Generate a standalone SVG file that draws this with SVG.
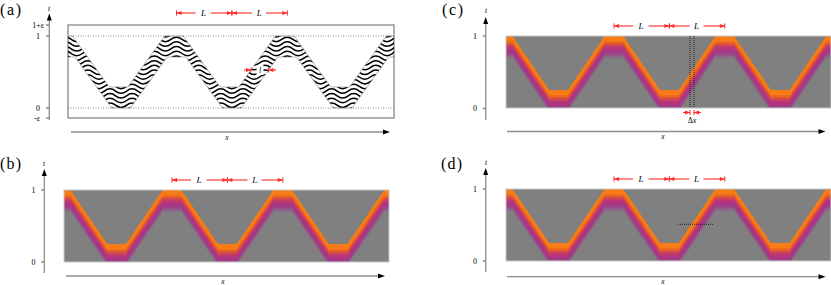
<svg xmlns="http://www.w3.org/2000/svg" xmlns:xlink="http://www.w3.org/1999/xlink" width="831" height="285" viewBox="0 0 831 285">
<style>
text{font-family:"Liberation Serif","Times New Roman",serif;fill:#000}
.pl{font-size:16px}
.tk{font-size:8px;text-anchor:end}
.ax{stroke:#8c8c8c;stroke-width:1.3;fill:none}
.ah{fill:#000}
.dim{stroke:#ff2a2a;stroke-width:1.1;fill:none;marker-end:url(#ah)}
.lb{font-size:9px;font-style:italic;text-anchor:middle}
.sm{font-size:7.5px;font-style:italic;text-anchor:middle}
.dot{stroke:#888;stroke-width:1;stroke-dasharray:1 1.5;fill:none}
.kdot{stroke:#222;stroke-width:1;stroke-dasharray:1 1;fill:none}
</style>
<defs>
<marker id="ah" markerUnits="userSpaceOnUse" markerWidth="10" markerHeight="10" viewBox="-8 -5 10 10" refX="0" refY="0" orient="auto" overflow="visible">
<path d="M0,0 L-5,-2 L-5,2 Z" fill="#ff2a2a"/><path d="M0,-2.6 V2.6" stroke="#ff2a2a" stroke-width="1"/>
</marker>
<filter id="bl" x="-0.05" y="-0.1" width="1.1" height="1.2"><feGaussianBlur stdDeviation="0.7"/></filter>
<path id="band" d="M53.86,36 L72.46,36 L109.26,87 L127.86,87 L164.66,36 L183.26,36 L220.06,87 L238.66,87 L275.46,36 L294.06,36 L330.86,87 L349.46,87 L386.26,36 L404.86,36 L407.36,57 L388.76,57 L351.96,108 L333.36,108 L296.56,57 L277.96,57 L241.16,108 L222.56,108 L185.76,57 L167.16,57 L130.36,108 L111.76,108 L74.96,57 L56.36,57 Z"/>
<clipPath id="cA"><rect x="68" y="25" width="326" height="93"/></clipPath>
<clipPath id="cBand"><path d="M53.86,36 L72.46,36 L109.26,87 L127.86,87 L164.66,36 L183.26,36 L220.06,87 L238.66,87 L275.46,36 L294.06,36 L330.86,87 L349.46,87 L386.26,36 L404.86,36 L407.36,57 L388.76,57 L351.96,108 L333.36,108 L296.56,57 L277.96,57 L241.16,108 L222.56,108 L185.76,57 L167.16,57 L130.36,108 L111.76,108 L74.96,57 L56.36,57 Z"/></clipPath>
<path id="wv" fill="none" stroke="#000" stroke-width="1.5" d="M60.12,0 q5.54,-4.5 11.08,0 t11.08,0 t11.08,0 t11.08,0 t11.08,0 t11.08,0 t11.08,0 t11.08,0 t11.08,0 t11.08,0 t11.08,0 t11.08,0 t11.08,0 t11.08,0 t11.08,0 t11.08,0 t11.08,0 t11.08,0 t11.08,0 t11.08,0 t11.08,0 t11.08,0 t11.08,0 t11.08,0 t11.08,0 t11.08,0 t11.08,0 t11.08,0 t11.08,0 t11.08,0 t11.08,0 t11.08,0"/>
<path id="hb" d="M-3.54,244 L15.06,244 L51.86,190 L70.46,190 L107.26,244 L125.86,244 L162.66,190 L181.26,190 L218.06,244 L236.66,244 L273.46,190 L292.06,190 L328.86,244 L347.46,244 L384.26,190 L402.86,190 L439.66,244 L450,244 L450,330 L-3.54,330 Z"/>
<clipPath id="cH"><rect x="64" y="190" width="325" height="72"/></clipPath>
<g id="hm">
<g clip-path="url(#cH)">
<g filter="url(#bl)">
<rect x="54" y="180" width="345" height="92" fill="#808080"/>
<use href="#hb" fill="#f77b12"/>
<use href="#hb" y="5" fill="#ee6a1e"/>
<use href="#hb" y="7" fill="#dd5238"/>
<use href="#hb" y="9" fill="#c94060"/>
<use href="#hb" y="11" fill="#b8347a"/>
<use href="#hb" y="13.5" fill="#a93583"/>
<use href="#hb" y="16" fill="#9c4088"/>
<use href="#hb" y="18.5" fill="#915a88"/>
<use href="#hb" y="20.5" fill="#877388"/>
<use href="#hb" y="22.5" fill="#808080"/>
</g>
</g>
<rect x="64" y="190" width="325" height="72" fill="none" stroke="#c8c8c8" stroke-width="1"/>
</g>
</defs>

<g id="panel-a">
<text class="pl" x="0" y="14.5" textLength="21">(a)</text>
<rect x="68" y="25" width="326" height="93" fill="#fff" stroke="#888" stroke-width="1.3"/>
<line class="dot" x1="68" y1="36" x2="394" y2="36"/>
<line class="dot" x1="68" y1="108" x2="394" y2="108"/>
<g clip-path="url(#cA)">
<g clip-path="url(#cBand)">
<use href="#wv" y="30"/><use href="#wv" y="34.7"/><use href="#wv" y="39.4"/><use href="#wv" y="44.1"/><use href="#wv" y="48.8"/><use href="#wv" y="53.5"/><use href="#wv" y="58.2"/><use href="#wv" y="62.9"/><use href="#wv" y="67.6"/><use href="#wv" y="72.3"/><use href="#wv" y="77"/><use href="#wv" y="81.7"/><use href="#wv" y="86.4"/><use href="#wv" y="91.1"/><use href="#wv" y="95.8"/><use href="#wv" y="100.5"/><use href="#wv" y="105.2"/><use href="#wv" y="109.9"/><use href="#wv" y="114.6"/>
</g>
<use href="#band" fill="none" stroke="#8a8a8a" stroke-width="0.6"/>
</g>
<rect x="256.5" y="65" width="7" height="10" fill="#fff"/>
<text class="sm" x="260" y="73">l</text>
<line class="ax" x1="49.3" y1="120" x2="49.3" y2="19"/>
<path class="ah" d="M49.3,13.5 L46.8,20.5 L51.8,20.5 Z"/>
<path class="ax" d="M46,25H49.3M46,36H49.3M46,108H49.3M46,118H49.3"/>
<text class="sm" x="49" y="11">t</text>
<text class="tk" x="44" y="27.7">1+ε</text>
<text class="tk" x="40" y="38.7">1</text>
<text class="tk" x="40" y="110.7">0</text>
<text class="tk" x="40" y="120.7">-ε</text>
<line class="ax" x1="71" y1="132" x2="384" y2="132"/>
<path class="ah" d="M390,132 L383,129.5 L383,134.5 Z"/>
<text class="sm" x="227" y="140">x</text>
</g>

<g id="panel-b">
<text class="pl" x="0" y="168.5" textLength="21">(b)</text>
<use href="#hm"/>
<line class="ax" x1="44.3" y1="273" x2="44.3" y2="175"/>
<path class="ah" d="M44.3,169 L41.8,176 L46.8,176 Z"/>
<path class="ax" d="M41.3,190H44.3M41.3,262H44.3"/>
<text class="sm" x="44" y="166">t</text>
<text class="tk" x="35.5" y="192.7">1</text>
<text class="tk" x="35.5" y="264.7">0</text>
<line class="ax" x1="66" y1="276" x2="379" y2="276"/>
<path class="ah" d="M385,276 L378,273.5 L378,278.5 Z"/>
<text class="sm" x="223" y="283.5">x</text>
</g>

<g id="panel-c">
<text class="pl" x="442" y="14.5" textLength="21">(c)</text>
<use href="#hm" transform="translate(442,-154)"/>
<line class="kdot" x1="690" y1="36" x2="690" y2="108"/>
<line class="kdot" x1="694" y1="36" x2="694" y2="108"/>
<line class="ax" x1="485.7" y1="120" x2="485.7" y2="23"/>
<path class="ah" d="M485.7,17 L483.2,24 L488.2,24 Z"/>
<path class="ax" d="M482.7,36H485.7M482.7,108.5H485.7"/>
<text class="sm" x="486" y="12.7">t</text>
<text class="tk" x="477" y="38.7">1</text>
<text class="tk" x="477" y="111.2">0</text>
<line class="ax" x1="507" y1="131.5" x2="819" y2="131.5"/>
<path class="ah" d="M825.5,131.5 L818.5,129 L818.5,134 Z"/>
<text class="sm" x="663" y="139">x</text>
<text x="692" y="123" font-size="8" text-anchor="middle">Δ<tspan font-style="italic">x</tspan></text>
</g>

<g id="panel-d">
<text class="pl" x="441" y="168.5" textLength="21">(d)</text>
<use href="#hm" transform="translate(442,-1)"/>
<line class="kdot" x1="678" y1="224.3" x2="713" y2="224.3"/>
<line class="ax" x1="485.7" y1="272" x2="485.7" y2="174"/>
<path class="ah" d="M485.7,168 L483.2,175 L488.2,175 Z"/>
<path class="ax" d="M482.7,189H485.7M482.7,261H485.7"/>
<text class="sm" x="486" y="165">t</text>
<text class="tk" x="477" y="191.7">1</text>
<text class="tk" x="477" y="263.7">0</text>
<line class="ax" x1="507" y1="276.7" x2="819" y2="276.7"/>
<path class="ah" d="M825.5,276.7 L818.5,274.2 L818.5,279.2 Z"/>
<text class="sm" x="663" y="284">x</text>
</g>

<g id="connectors">
<line class="dim" x1="195.5" y1="13" x2="176.5" y2="13"/>
<line class="dim" x1="211" y1="13" x2="231.9" y2="13"/>
<line class="dim" x1="252" y1="13" x2="231.9" y2="13"/>
<line class="dim" x1="266" y1="13" x2="287.3" y2="13"/>
<text class="lb" x="203.5" y="16.2">L</text>
<text class="lb" x="259.2" y="16.2">L</text>
<line class="dim" x1="244" y1="70" x2="251" y2="70"/>
<line class="dim" x1="276" y1="70" x2="268.5" y2="70"/>

<line class="dim" x1="191" y1="180" x2="172" y2="180"/>
<line class="dim" x1="206.5" y1="180" x2="227.4" y2="180"/>
<line class="dim" x1="247.5" y1="180" x2="227.4" y2="180"/>
<line class="dim" x1="261.5" y1="180" x2="282.8" y2="180"/>
<text class="lb" x="199" y="183.2">L</text>
<text class="lb" x="254.7" y="183.2">L</text>

<line class="dim" x1="633" y1="26" x2="614" y2="26"/>
<line class="dim" x1="648.5" y1="26" x2="669.4" y2="26"/>
<line class="dim" x1="689.5" y1="26" x2="669.4" y2="26"/>
<line class="dim" x1="703.5" y1="26" x2="724.8" y2="26"/>
<text class="lb" x="641" y="29.2">L</text>
<text class="lb" x="696.5" y="29.2">L</text>
<line class="dim" x1="683" y1="112.5" x2="690" y2="112.5"/>
<line class="dim" x1="701" y1="112.5" x2="694" y2="112.5"/>

<line class="dim" x1="633" y1="179" x2="614" y2="179"/>
<line class="dim" x1="648.5" y1="179" x2="669.4" y2="179"/>
<line class="dim" x1="689.5" y1="179" x2="669.4" y2="179"/>
<line class="dim" x1="703.5" y1="179" x2="724.8" y2="179"/>
<text class="lb" x="641" y="182.2">L</text>
<text class="lb" x="696.5" y="182.2">L</text>
</g>
</svg>
